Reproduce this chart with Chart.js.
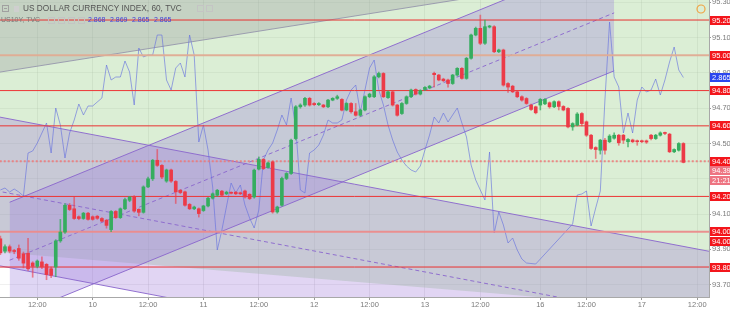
<!DOCTYPE html>
<html><head><meta charset="utf-8">
<script src="https://cdn.jsdelivr.net/npm/chart.js@4/dist/chart.umd.min.js"></script>
<style>html,body{margin:0;padding:0;background:#fff}canvas{display:block}</style>
</head><body>
<canvas id="c" width="730" height="310"></canvas>
<script>
// ---------- DATA ----------
const firstBar = -8; // hourly bar index of first candle (0 = 9th 12:00)
const opens = [93.96,93.89,93.915,93.89,93.905,93.875,93.878,93.823,
93.804,93.829,93.815,93.79,93.80,93.948,93.998,94.15,94.13,94.085,
94.075,94.105,94.085,94.088,94.075,94.065,94.012,94.115,94.08,94.13,
94.178,94.197,94.127,94.11,94.254,94.30,94.405,94.376,94.287,94.35,
94.285,94.235,94.226,94.155,94.13,94.13,94.12,94.146,94.19,94.207,
94.23,94.215,94.222,94.224,94.22,94.231,94.212,94.197,94.355,94.41,
94.364,94.396,94.112,94.15,94.302,94.33,94.528,94.708,94.718,94.756,
94.727,94.72,94.718,94.708,94.746,94.756,94.75,94.69,94.727,94.68,
94.66,94.69,94.765,94.765,94.878,94.897,94.76,94.793,94.718,94.67,
94.727,94.765,94.806,94.78,94.806,94.815,94.898,94.888,94.865,94.86,
94.84,94.888,94.926,94.869,94.983,95.115,95.153,95.068,95.16,95.162,
95.02,95.03,94.84,94.825,94.793,94.765,94.755,94.718,94.708,94.718,
94.725,94.731,94.708,94.737,94.71,94.699,94.594,94.604,94.67,94.623,
94.547,94.477,94.462,94.519,94.51,94.53,94.547,94.547,94.51,94.52,
94.515,94.515,94.515,94.547,94.528,94.547,94.56,94.553,94.453,94.462,
94.50];
const closes = [93.88,93.915,93.89,93.888,93.85,93.822,93.79,93.804,
93.834,93.80,93.757,93.753,93.948,93.998,94.15,94.126,94.075,94.075,
94.105,94.07,94.07,94.076,94.06,94.036,94.115,94.08,94.13,94.182,
94.197,94.117,94.11,94.254,94.30,94.405,94.376,94.31,94.35,94.287,
94.226,94.222,94.15,94.13,94.14,94.103,94.146,94.19,94.215,94.235,
94.207,94.224,94.218,94.215,94.215,94.197,94.188,94.349,94.41,94.358,
94.39,94.112,94.14,94.302,94.33,94.519,94.708,94.718,94.756,94.718,
94.72,94.727,94.708,94.746,94.756,94.765,94.689,94.727,94.68,94.66,
94.69,94.765,94.78,94.878,94.897,94.765,94.793,94.718,94.66,94.727,
94.765,94.803,94.78,94.80,94.818,94.825,94.89,94.86,94.856,94.84,
94.888,94.926,94.869,94.983,95.115,95.153,95.068,95.162,95.166,95.02,
95.03,94.831,94.82,94.793,94.765,94.746,94.727,94.693,94.674,94.75,
94.75,94.708,94.737,94.71,94.69,94.594,94.613,94.667,94.613,94.547,
94.472,94.466,94.519,94.462,94.542,94.547,94.504,94.519,94.523,94.51,
94.51,94.51,94.508,94.528,94.547,94.56,94.557,94.453,94.466,94.50,
94.393];
const highs = [93.975,93.925,93.925,93.90,93.925,93.885,93.963,93.83,
93.84,93.857,93.82,93.80,93.955,94.07,94.16,94.16,94.197,94.09,
94.11,94.11,94.09,94.092,94.08,94.07,94.12,94.12,94.135,94.19,
94.20,94.205,94.13,94.26,94.31,94.41,94.466,94.38,94.355,94.355,
94.29,94.24,94.23,94.16,94.145,94.135,94.15,94.195,94.22,94.24,
94.235,94.23,94.226,94.228,94.225,94.236,94.216,94.355,94.424,94.415,
94.395,94.40,94.145,94.31,94.335,94.525,94.715,94.725,94.762,94.762,
94.732,94.732,94.722,94.75,94.76,94.774,94.755,94.732,94.732,94.727,
94.695,94.77,94.785,94.885,94.905,94.902,94.798,94.798,94.722,94.732,
94.77,94.808,94.81,94.805,94.822,94.83,94.905,94.892,94.87,94.865,
94.892,94.93,94.93,94.988,95.12,95.16,95.228,95.20,95.17,95.168,
95.035,95.035,94.845,94.83,94.798,94.77,94.76,94.723,94.712,94.755,
94.755,94.736,94.742,94.742,94.715,94.704,94.618,94.675,94.675,94.628,
94.552,94.482,94.524,94.53,94.55,94.56,94.552,94.552,94.528,94.525,
94.52,94.52,94.52,94.552,94.552,94.566,94.565,94.558,94.47,94.505,
94.505];
const lows = [93.87,93.88,93.88,93.875,93.838,93.795,93.78,93.742,
93.795,93.79,93.728,93.74,93.745,93.94,93.99,94.12,94.07,94.068,
94.07,94.065,94.065,94.07,94.055,94.02,94.0,94.075,94.075,94.125,
94.17,94.11,94.09,94.105,94.25,94.29,94.37,94.30,94.28,94.28,
94.16,94.215,94.145,94.125,94.125,94.083,94.115,94.14,94.185,94.20,
94.20,94.21,94.214,94.21,94.21,94.19,94.182,94.19,94.35,94.352,
94.36,94.105,94.105,94.145,94.295,94.325,94.52,94.70,94.71,94.712,
94.715,94.715,94.703,94.703,94.742,94.75,94.684,94.685,94.672,94.655,
94.655,94.685,94.76,94.76,94.872,94.76,94.755,94.712,94.655,94.665,
94.722,94.76,94.775,94.775,94.80,94.81,94.82,94.855,94.85,94.82,
94.835,94.882,94.864,94.864,94.978,95.11,95.06,95.062,95.155,95.015,
95.015,94.825,94.79,94.788,94.76,94.74,94.722,94.688,94.668,94.69,
94.72,94.70,94.703,94.69,94.685,94.588,94.575,94.60,94.60,94.54,
94.466,94.415,94.44,94.44,94.505,94.525,94.49,94.50,94.48,94.505,
94.49,94.505,94.50,94.52,94.523,94.542,94.55,94.448,94.448,94.457,
94.39];

// US10Y overlay (own hidden scale)
const yieldBars = [-8,-7,-6,-5,-4,-3,-2,-1,0,1,2,3,4,5,6,7,8,9,10,11,12,14,15,16,17,18,19,20,21,22,23,24,25,26,27,28,29,30,31,32,33,34,35,36,37,38,39,40,42,43,44,45,46,47,48,49,50,51,52,53,54,55,56,57,58,59,60,61,62,63,64,65,66,67,68,69,70,71,72,73,74,75,76,77,78,79,80,81,82,83,84,85,86,87,88,89,90,91,92,93,94,95,96,97,98,99,100,101,102,103,104,105,106,108,116,117,118,119,120,121,122,123,124,125,126,127,128,129,130,131,132,133,134,135,136,137,138,139,140];
const yieldValues = [2.820,2.8208,2.8192,2.8204,2.8192,2.8176,2.8348,2.8356,2.8388,2.8428,2.8468,2.8348,2.8528,2.846,2.8328,2.8428,2.848,2.8544,2.850,2.8536,2.8536,2.8568,2.870,2.864,2.8652,2.8652,2.8716,2.8672,2.854,2.8768,2.8732,2.874,2.874,2.882,2.882,2.864,2.860,2.8688,2.8708,2.8652,2.882,2.874,2.8392,2.846,2.836,2.8212,2.796,2.804,2.8228,2.8188,2.822,2.814,2.8088,2.8048,2.812,2.832,2.836,2.8388,2.844,2.850,2.846,2.8568,2.8452,2.820,2.8188,2.8348,2.836,2.838,2.842,2.848,2.8468,2.8468,2.848,2.856,2.860,2.862,2.8512,2.860,2.8688,2.872,2.860,2.854,2.846,2.840,2.8352,2.832,2.8296,2.828,2.8272,2.8296,2.836,2.842,2.8492,2.8468,2.8508,2.8472,2.850,2.8528,2.8468,2.8412,2.830,2.824,2.820,2.816,2.8352,2.8028,2.8112,2.806,2.7988,2.8008,2.796,2.7924,2.7908,2.7904,2.8064,2.818,2.8184,2.8196,2.8056,2.8128,2.8196,2.856,2.8872,2.8652,2.8612,2.8428,2.8508,2.8428,2.856,2.8612,2.8592,2.860,2.8644,2.858,2.864,2.8712,2.8772,2.868,2.865];
const yieldLegend = ['2.868','2.869','2.865','2.865'];

// channel drawings: [startBar, endBar] and prices at both ends
const ascBars = [-6, 125];
const ascUpper = [94.167, 95.569];
const ascMid = [93.8385, 95.2405];
const ascLower = [93.51, 94.912];
const descBars = [-9, 146];
const descUpper = [94.654, 93.887];
const descMid = [94.2325, 93.465];
const descLower = [93.811, 93.0435];
const topBars = [-9, 146];
const topLine = [94.901, 95.542];
const greenBars = [-9, 146];
const greenLine = [93.885, 93.5485];

// horizontal levels
const hLevels = [95.20, 95.00, 94.80, 94.60, 94.40, 94.20, 94.00, 93.80];
const tagValues = [95.20, 95.00, 94.80, 94.60, 94.40, 94.393, 94.393, 94.20, 94.00, 94.00, 93.80];
const tagTexts = ['95.20','95.00','94.80','94.60','94.40','94.39','21:21','94.20','94.00','94.00','93.80'];

// axes
const xTickPos = [0,12,24,36,48,60,72,84,96,109,119,131,143];
const xTickLabels = ['12:00','10','12:00','11','12:00','12','12:00','13','12:00','16','12:00','17','12:00'];
const yTicks = [93.7,93.8,93.9,94.0,94.1,94.2,94.3,94.4,94.5,94.6,94.7,94.8,94.9,95.0,95.1,95.2,95.3];

// ---------- STYLES ----------
const UP = '#35ad5f', DOWN = '#ec3a47';
const FONT = '"Liberation Sans", Arial, sans-serif';
const levelColors = ['#ee3535','rgba(226,172,148,0.95)','#ee3535','#ee3535','rgba(238,120,120,0.85)','#ee3535','rgba(236,140,140,0.95)','#ee3535'];
const levelWidths = [1,2,1,1,2,1,2,1];
const levelDash = [[],[],[],[],[2,2],[],[],[]];
const tagColors = ['#f3161c','#f3161c','#f3161c','#f3161c','#f3161c','#ee7482','#ee7482','#f3161c','#f3161c','#f3161c','#f3161c'];

const bars = opens.map((_, k) => firstBar + k);
const bodyColors = opens.map((o, k) => closes[k] >= o ? UP : DOWN);
const wickColors = opens.map((o, k) => closes[k] >= o ? 'rgba(53,173,95,0.75)' : 'rgba(236,58,71,0.6)');
const seg = (xs, ys) => [{x: xs[0], y: ys[0]}, {x: xs[1], y: ys[1]}];
const chanLine = 'rgba(140,105,205,0.95)';

const lineBase = {type: 'line', pointRadius: 0, tension: 0, fill: false, borderWidth: 1};
const datasets = [];
datasets.push({type: 'bar', order: 0, grouped: false, barThickness: 3, minBarLength: 1,
  data: bars.map((b, k) => ({x: b, y: [opens[k], closes[k]]})), backgroundColor: bodyColors});
datasets.push({type: 'bar', order: 1, grouped: false, barThickness: 1,
  data: bars.map((b, k) => ({x: b, y: [lows[k], highs[k]]})), backgroundColor: wickColors});
datasets.push({...lineBase, order: 3, yAxisID: 'y2', borderColor: 'rgba(100,112,222,0.62)',
  data: yieldBars.map((b, k) => ({x: b, y: yieldValues[k]}))});
hLevels.forEach((v, k) => datasets.push({...lineBase, order: 2, borderColor: levelColors[k],
  borderWidth: levelWidths[k], borderDash: levelDash[k], data: seg([-9, 146], [v, v])}));
const ascIdx = datasets.length;
datasets.push({...lineBase, order: 17, borderColor: chanLine, data: seg(ascBars, ascUpper),
  fill: {target: ascIdx + 2}, backgroundColor: 'rgba(150,118,220,0.30)'});
datasets.push({...lineBase, order: 5, borderColor: chanLine, borderDash: [4, 3], data: seg(ascBars, ascMid)});
datasets.push({...lineBase, order: 5, borderColor: chanLine, data: seg(ascBars, ascLower)});
const descIdx = datasets.length;
datasets.push({...lineBase, order: 18, borderColor: chanLine, data: seg(descBars, descUpper),
  fill: {target: descIdx + 2}, backgroundColor: 'rgba(154,116,214,0.30)'});
datasets.push({...lineBase, order: 5, borderColor: chanLine, borderDash: [4, 3], data: seg(descBars, descMid)});
datasets.push({...lineBase, order: 5, borderColor: chanLine, data: seg(descBars, descLower)});
datasets.push({...lineBase, order: 19, borderColor: 'rgba(150,150,172,0.9)', data: seg(topBars, topLine),
  fill: 'end', backgroundColor: 'rgba(140,140,150,0.28)'});
datasets.push({...lineBase, order: 20, borderWidth: 0, borderColor: 'rgba(0,0,0,0)', data: seg(greenBars, greenLine),
  fill: 'end', backgroundColor: 'rgba(160,210,145,0.38)'});

// ---------- PLUGINS ----------
const tagPlugin = {
  id: 'tags',
  afterDraw(chart) {
    const ctx = chart.ctx, ys = chart.scales.y, y2 = chart.scales.y2;
    const x0 = chart.chartArea.right, w = chart.width - x0;
    const items = tagValues.map((v, k) => ({py: ys.getPixelForValue(v), text: tagTexts[k], color: tagColors[k], k}));
    items.push({py: y2.getPixelForValue(+yieldLegend[3]), text: yieldLegend[3], color: '#2c46ee', k: 99});
    items.sort((a, b) => a.py - b.py || a.k - b.k);
    let last = -100;
    ctx.save();
    ctx.font = '7.5px ' + FONT;
    ctx.textBaseline = 'middle';
    for (const it of items) {
      if (it.py < last + 9.5) it.py = last + 9.5;
      last = it.py;
      ctx.fillStyle = it.color;
      ctx.fillRect(x0 + 1, Math.round(it.py - 4.5), w - 1, 9);
      ctx.fillStyle = '#fff';
      ctx.fillText(it.text, x0 + 3, it.py + 0.5);
    }
    ctx.restore();
  }
};
const legendPlugin = {
  id: 'tvlegend',
  afterDraw(chart) {
    const ctx = chart.ctx;
    ctx.save();
    ctx.strokeStyle = '#a0a0a0'; ctx.lineWidth = 1;
    ctx.strokeRect(2.5, 5.5, 6, 6);
    ctx.beginPath(); ctx.moveTo(4, 8.5); ctx.lineTo(7, 8.5); ctx.stroke();
    ctx.fillStyle = '#cfcfcf'; ctx.fillRect(14, 6, 5, 6);
    ctx.textBaseline = 'middle';
    const title = 'US DOLLAR CURRENCY INDEX, 60, TVC';
    ctx.font = '10px ' + FONT;
    const tw = ctx.measureText(title).width;
    const fs = 10 * 159 / tw;
    ctx.font = fs.toFixed(2) + 'px ' + FONT;
    ctx.fillStyle = '#555';
    ctx.fillText(title, 23, 9);
    ctx.strokeStyle = '#c4c4c4';
    ctx.strokeRect(197.5, 5.5, 6, 6); ctx.strokeRect(206.5, 5.5, 6, 6);
    ctx.font = '7px ' + FONT;
    ctx.fillStyle = '#7a7a7a';
    ctx.fillText('US10Y, TVC', 1, 20.5);
    [48, 58, 68, 78].forEach(x => ctx.strokeRect(x + 0.5, 17.5, 6, 6));
    ctx.fillStyle = '#3f3fd8';
    [88, 110, 132, 154].forEach((x, k) => ctx.fillText(yieldLegend[k], x, 20.5));
    ctx.strokeStyle = '#f0a445'; ctx.lineWidth = 1.2;
    ctx.beginPath(); ctx.arc(701, 9, 4, 0, Math.PI * 2); ctx.stroke();
    ctx.restore();
  }
};

new Chart(document.getElementById('c'), {
  type: 'bar',
  data: {datasets},
  plugins: [legendPlugin, tagPlugin],
  options: {
    responsive: false, animation: false,
    layout: {padding: 0},
    plugins: {legend: {display: false}, tooltip: {enabled: false}, filler: {drawTime: 'beforeDatasetsDraw'}},
    scales: {
      x: {
        type: 'linear', min: -8.08, max: 145.55, offset: false,
        afterBuildTicks: s => { s.ticks = xTickPos.map(v => ({value: v})); },
        afterFit: s => { s.height = 13; s.paddingLeft = 0; s.paddingRight = 0; },
        ticks: {autoSkip: false, maxRotation: 0, padding: 0, color: '#7a7a7a', font: {size: 7.5, family: FONT},
          callback: v => xTickLabels[xTickPos.indexOf(v)]},
        grid: {offset: false, color: 'rgba(110,110,110,0.13)', tickLength: 3, tickColor: '#9a9a9a'},
        border: {color: '#a8a8a8'}
      },
      y: {
        position: 'right', min: 93.630, max: 95.3134, beginAtZero: false,
        afterBuildTicks: s => { s.ticks = yTicks.map(v => ({value: v})); },
        afterFit: s => { s.width = 21; s.paddingTop = 0; s.paddingBottom = 0; },
        ticks: {padding: 1, color: '#7a7a7a', font: {size: 7.5, family: FONT}, callback: v => v.toFixed(2)},
        grid: {color: 'rgba(110,110,110,0.10)', tickLength: 2, tickColor: '#9a9a9a'},
        border: {color: '#a8a8a8'}
      },
      y2: {display: false, min: 2.7772, max: 2.896}
    }
  }
});
</script>
</body></html>
